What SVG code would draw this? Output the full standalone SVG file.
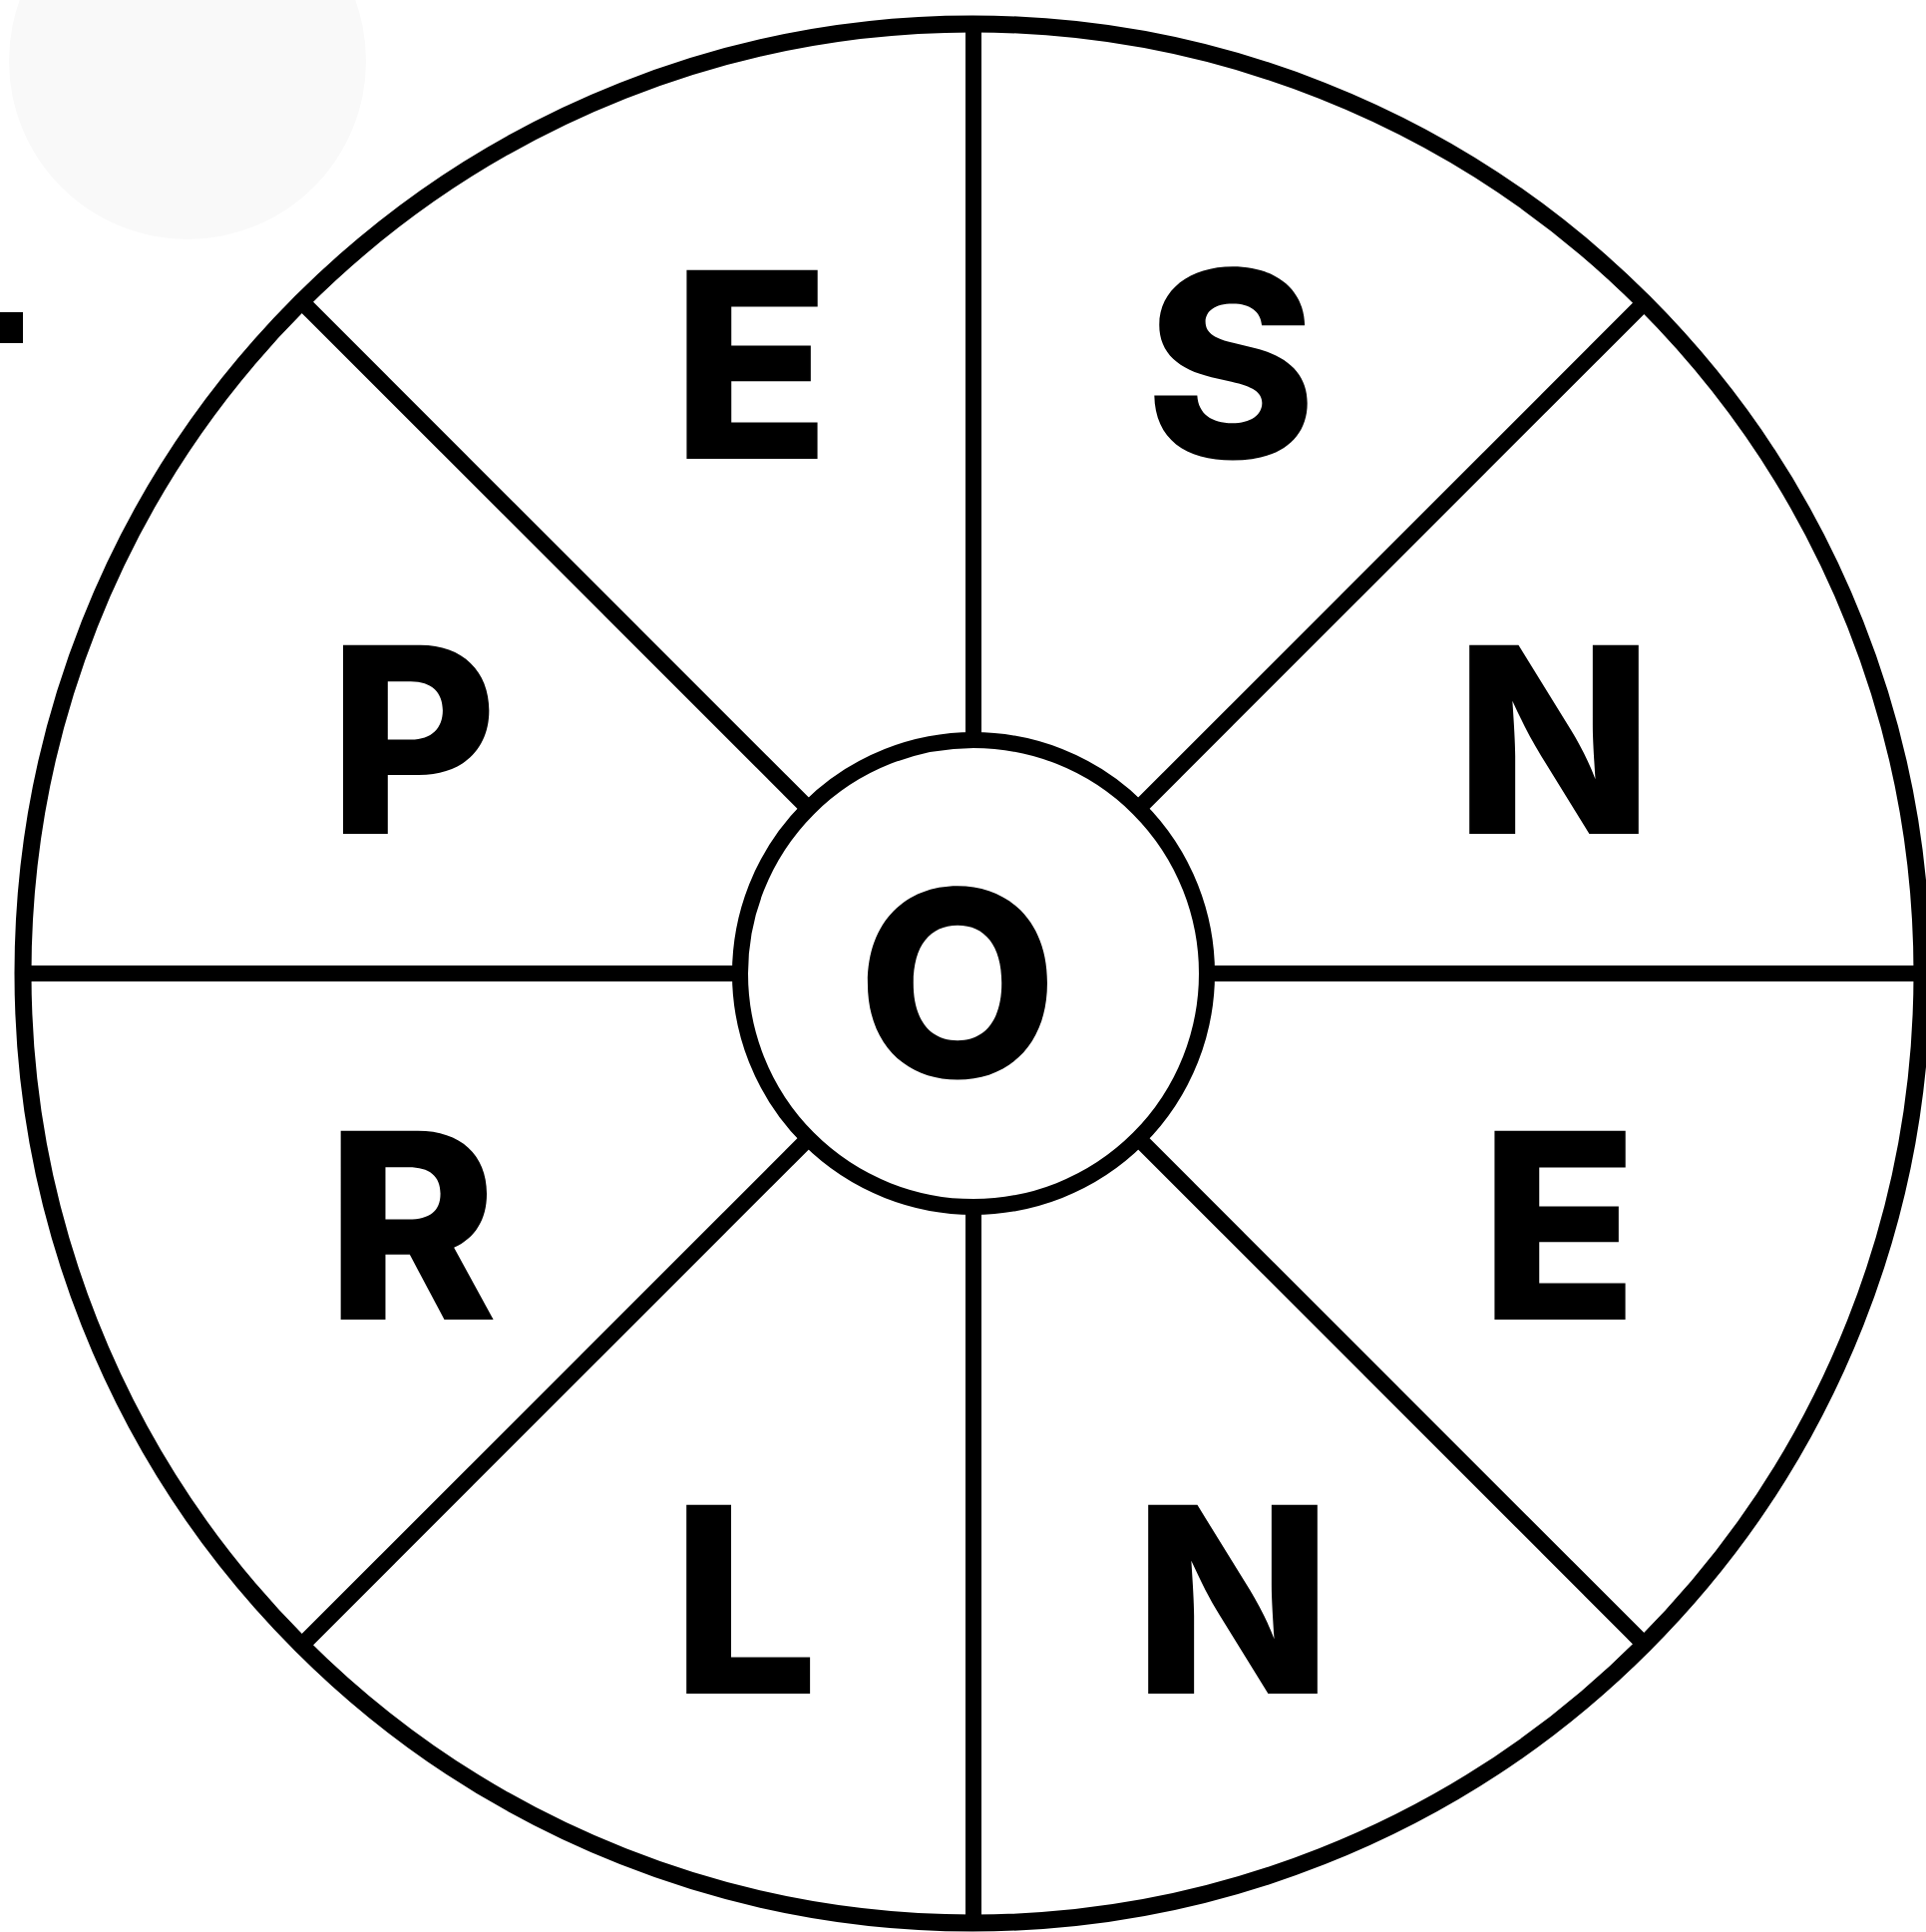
<svg xmlns="http://www.w3.org/2000/svg" width="1931" height="1937" viewBox="0 0 1931 1937">
<style>
.ring{fill:none;stroke:#000;stroke-width:17}
.spoke{stroke:#000;stroke-width:16;stroke-linecap:butt}
.lt{font-family:Inter,"Open Sans","Liberation Sans",sans-serif;font-weight:800;font-size:260px;fill:#000;text-anchor:middle}
</style>
<rect width="1931" height="1937" fill="#fff"/>
<circle cx="188" cy="61" r="179" fill="#f9f9f9"/>
<rect x="0" y="313" width="23" height="31" fill="#000"/>
<g id="wheel">
<circle class="ring" cx="975" cy="976" r="952"/>
</g>
<g id="connectors">
<line class="spoke" x1="976" y1="742" x2="976" y2="24"/>
<line class="spoke" x1="976" y1="1210" x2="976" y2="1928"/>
<line class="spoke" x1="742" y1="976" x2="24" y2="976"/>
<line class="spoke" x1="1210" y1="976" x2="1927" y2="976"/>
<line class="spoke" x1="810.5" y1="810.5" x2="303" y2="303"/>
<line class="spoke" x1="1141.5" y1="810.5" x2="1649" y2="303"/>
<line class="spoke" x1="810.5" y1="1141.5" x2="303" y2="1649"/>
<line class="spoke" x1="1141.5" y1="1141.5" x2="1649" y2="1649"/>
</g>
<g id="center">
<circle cx="976" cy="976" r="234" fill="#fff" stroke="#000" stroke-width="16"/>
<text class="lt" x="960" y="1080">O</text>
</g>
<g id="seg-e-top"><text class="lt" x="753" y="460">E</text></g>
<g id="seg-s"><text class="lt" x="1234" y="459">S</text></g>
<g id="seg-n-right"><text class="lt" x="1558" y="836">N</text></g>
<g id="seg-e-right"><text class="lt" x="1563" y="1323">E</text></g>
<g id="seg-n-bottom"><text class="lt" x="1236" y="1698">N</text></g>
<g id="seg-l"><text class="lt" x="747" y="1698">L</text></g>
<g id="seg-r"><text class="lt" x="413" y="1323">R</text></g>
<g id="seg-p"><text class="lt" x="414" y="836">P</text></g>
</svg>
